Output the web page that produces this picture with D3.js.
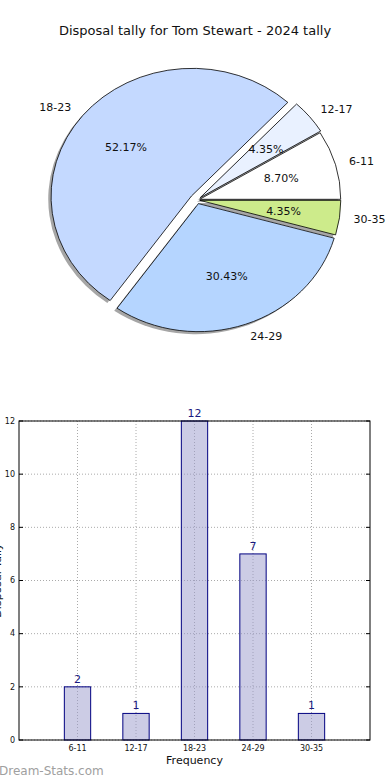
<!DOCTYPE html>
<html>
<head>
<meta charset="utf-8">
<script src="https://cdn.jsdelivr.net/npm/d3@7"></script>
<style>
  body { margin: 0; background: #fff; }
  svg { display: block; font-family: 'DejaVu Sans', sans-serif; }
</style>
</head>
<body>
<svg id="chart" width="390" height="780"></svg>
<script>
const categories = ['6-11', '12-17', '18-23', '24-29', '30-35'];
const counts = [2, 1, 12, 7, 1];
const sliceColors = ['#ffffff', '#e9f1ff', '#c4d9ff', '#b5d5ff', '#cdeb8b'];
const explode = [0.02, 0.03, 0.05, 0.03, 0.02];
const yTicks = [0, 2, 4, 6, 8, 10, 12];

const svg = d3.select('#chart');

svg.append('text')
  .attr('x', 195).attr('y', 35)
  .attr('text-anchor', 'middle')
  .style('font-size', '13px')
  .attr('fill', '#111')
  .text('Disposal tally for Tom Stewart - 2024 tally');

// ---- pie (elliptical, matplotlib style: start at 3 o'clock, counterclockwise)
const cx = 197, cy = 200, rx = 141, ry = 128;
const total = d3.sum(counts);

const pie = d3.pie().sort(null)
  .startAngle(Math.PI / 2)
  .endAngle(Math.PI / 2 - 2 * Math.PI);

const arcs = pie(counts).map((d, i) => {
  const mid = (d.startAngle + d.endAngle) / 2;
  return {
    ...d, i,
    mid,
    ox: cx + Math.sin(mid) * explode[i] * rx,
    oy: cy - Math.cos(mid) * explode[i] * ry
  };
});

const unitArc = d3.arc().innerRadius(0).outerRadius(1);

const pieG = svg.append('g');

// shadows
pieG.selectAll('path.shadow')
  .data(arcs)
  .join('path')
  .attr('class', 'shadow')
  .attr('transform', d => `translate(${d.ox - 0.02 * rx},${d.oy + 0.02 * ry}) scale(${rx},${ry})`)
  .attr('d', unitArc)
  .attr('fill', '#4d4d4d')
  .attr('opacity', 0.5);

pieG.selectAll('path.wedge')
  .data(arcs)
  .join('path')
  .attr('class', 'wedge')
  .attr('transform', d => `translate(${d.ox},${d.oy}) scale(${rx},${ry})`)
  .attr('d', unitArc)
  .attr('fill', d => sliceColors[d.i])
  .attr('stroke', '#000')
  .attr('stroke-width', 0.8)
  .attr('vector-effect', 'non-scaling-stroke');

pieG.selectAll('text.lab')
  .data(arcs)
  .join('text')
  .attr('class', 'lab')
  .attr('x', d => d.ox + Math.sin(d.mid) * 1.1 * rx)
  .attr('y', d => d.oy - Math.cos(d.mid) * 1.1 * ry)
  .attr('dy', '0.35em')
  .attr('text-anchor', d => Math.sin(d.mid) < 0 ? 'end' : 'start')
  .style('font-size', '11px')
  .attr('fill', '#111')
  .text(d => categories[d.i]);

pieG.selectAll('text.pct')
  .data(arcs)
  .join('text')
  .attr('class', 'pct')
  .attr('x', d => d.ox + Math.sin(d.mid) * 0.6 * rx)
  .attr('y', d => d.oy - Math.cos(d.mid) * 0.6 * ry)
  .attr('dy', '0.35em')
  .attr('text-anchor', 'middle')
  .style('font-size', '11px')
  .attr('fill', '#111')
  .text(d => (d.value / total * 100).toFixed(2) + '%');

// ---- bar chart
const plotL = 19, plotR = 370, plotT = 421, plotB = 740;
const x = d3.scaleLinear().domain([0, categories.length + 1]).range([plotL, plotR]);
const y = d3.scaleLinear().domain([0, 12]).range([plotB, plotT]);
const barW = x(0.45) - x(0);

const barG = svg.append('g');

// grid
barG.selectAll('line.ygrid')
  .data(yTicks)
  .join('line')
  .attr('x1', plotL).attr('x2', plotR)
  .attr('y1', d => y(d)).attr('y2', d => y(d))
  .attr('stroke', '#aaa').attr('stroke-width', 1)
  .attr('stroke-dasharray', '1,2');

barG.selectAll('line.xgrid')
  .data(categories)
  .join('line')
  .attr('x1', (d, i) => x(i + 1)).attr('x2', (d, i) => x(i + 1))
  .attr('y1', plotT).attr('y2', plotB)
  .attr('stroke', '#aaa').attr('stroke-width', 1)
  .attr('stroke-dasharray', '1,2');

barG.selectAll('rect.bar')
  .data(counts)
  .join('rect')
  .attr('class', 'bar')
  .attr('x', (d, i) => x(i + 1) - barW / 2)
  .attr('y', d => y(d))
  .attr('width', barW)
  .attr('height', d => y(0) - y(d))
  .attr('fill', '#9999cc')
  .attr('fill-opacity', 0.5)
  .attr('stroke', '#000080')
  .attr('stroke-width', 1);

barG.selectAll('text.val')
  .data(counts)
  .join('text')
  .attr('x', (d, i) => x(i + 1))
  .attr('y', d => y(d) - 4)
  .attr('text-anchor', 'middle')
  .style('font-size', '11px')
  .attr('fill', '#1a1a80')
  .text(d => d);

// frame
barG.append('rect')
  .attr('x', plotL).attr('y', plotT)
  .attr('width', plotR - plotL).attr('height', plotB - plotT)
  .attr('fill', 'none').attr('stroke', '#000').attr('stroke-width', 1);

// inward ticks
barG.selectAll('line.ytk')
  .data(yTicks)
  .join('line')
  .attr('x1', plotL).attr('x2', plotL + 4)
  .attr('y1', d => y(d)).attr('y2', d => y(d))
  .attr('stroke', '#000');
barG.selectAll('line.ytk2')
  .data(yTicks)
  .join('line')
  .attr('x1', plotR - 4).attr('x2', plotR)
  .attr('y1', d => y(d)).attr('y2', d => y(d))
  .attr('stroke', '#000');

barG.selectAll('text.ytl')
  .data(yTicks)
  .join('text')
  .attr('x', plotL - 4)
  .attr('y', d => y(d))
  .attr('dy', '0.35em')
  .attr('text-anchor', 'end')
  .style('font-size', '8px')
  .attr('fill', '#111')
  .text(d => d);

barG.selectAll('text.xtl')
  .data(categories)
  .join('text')
  .attr('x', (d, i) => x(i + 1))
  .attr('y', plotB + 11)
  .attr('text-anchor', 'middle')
  .style('font-size', '8px')
  .attr('fill', '#111')
  .text(d => d);

svg.append('text')
  .attr('x', (plotL + plotR) / 2).attr('y', 764)
  .attr('text-anchor', 'middle')
  .style('font-size', '11px')
  .attr('fill', '#111')
  .text('Frequency');

svg.append('text')
  .attr('transform', `translate(1,${(plotT + plotB) / 2}) rotate(-90)`)
  .attr('text-anchor', 'middle')
  .style('font-size', '11px')
  .attr('fill', '#111')
  .text('Disposal Tally');

svg.append('text')
  .attr('x', -1).attr('y', 775)
  .style('font-size', '12px')
  .attr('fill', '#a0a0a0')
  .text('Dream-Stats.com');
</script>
</body>
</html>
